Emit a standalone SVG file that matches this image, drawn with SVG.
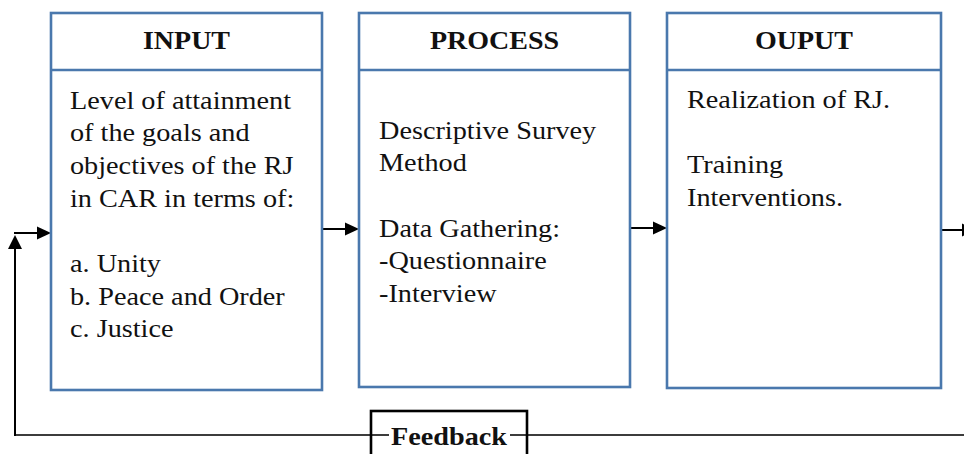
<svg xmlns="http://www.w3.org/2000/svg" width="964" height="454" viewBox="0 0 964 454">
  <style>
    .box { fill: #ffffff; stroke: #4a78ad; stroke-width: 2.6; }
    .head { font-family: "Liberation Serif", "Times New Roman", serif; font-size: 25px; font-weight: bold; fill: #111111; text-anchor: middle; }
    .copy { font-family: "Liberation Serif", "Times New Roman", serif; font-size: 25px; font-weight: normal; fill: #111111; }
    .wire { fill: none; stroke: #000000; stroke-width: 2; }
    .loop { fill: none; stroke: #3c3c3c; stroke-width: 2; }
  </style>
  <rect width="964" height="454" fill="#ffffff"/>

  <!-- connectors -->
  <g id="connectors">
    <line class="loop" x1="15" y1="435" x2="964" y2="435"/>
    <line class="wire" x1="15" y1="436" x2="15" y2="248"/>
    <path d="M15,235 L8,249 L22,249 z" fill="#000000"/>
    <line class="wire" x1="14" y1="233" x2="38" y2="233"/>
    <path d="M51,233 L37,226.5 L37,239.5 z" fill="#000000"/>
    <line class="wire" x1="323" y1="229" x2="346" y2="229"/>
    <path d="M359,229 L345,222.5 L345,235.5 z" fill="#000000"/>
    <line class="wire" x1="631" y1="228" x2="654" y2="228"/>
    <path d="M667,228 L653,221.5 L653,234.5 z" fill="#000000"/>
    <line class="wire" x1="942" y1="230" x2="964" y2="230"/>
    <path d="M976,230 L962,223.5 L962,236.5 z" fill="#000000"/>
  </g>

  <!-- INPUT -->
  <g id="input">
    <rect class="box" x="51" y="13" width="271" height="377"/>
    <line class="box" x1="51" y1="70" x2="322" y2="70"/>
    <text class="head" transform="matrix(1.12,0,0,1,186.5,49)">INPUT</text>
    <text class="copy" font-family="Liberation Serif, serif" transform="matrix(1.13,0,0,1,70,108.5)"><tspan x="0" y="0">Level of attainment</tspan><tspan x="0" y="32.7">of the goals and</tspan><tspan x="0" y="65.4">objectives of the RJ</tspan><tspan x="0" y="98.1">in CAR in terms of:</tspan><tspan x="0" y="163.5">a. Unity</tspan><tspan x="0" y="196.2">b. Peace and Order</tspan><tspan x="0" y="228.9">c. Justice</tspan></text>
  </g>

  <!-- PROCESS -->
  <g id="process">
    <rect class="box" x="359" y="13" width="271" height="374"/>
    <line class="box" x1="359" y1="70" x2="630" y2="70"/>
    <text class="head" transform="matrix(1.12,0,0,1,494.5,49)">PROCESS</text>
    <text class="copy" font-family="Liberation Serif, serif" transform="matrix(1.13,0,0,1,379,138.5)"><tspan x="0" y="0">Descriptive Survey</tspan><tspan x="0" y="32.7">Method</tspan><tspan x="0" y="98.1">Data Gathering:</tspan><tspan x="0" y="130.8">-Questionnaire</tspan><tspan x="0" y="163.5">-Interview</tspan></text>
  </g>

  <!-- OUTPUT -->
  <g id="output">
    <rect class="box" x="667" y="13" width="274" height="375"/>
    <line class="box" x1="667" y1="70" x2="941" y2="70"/>
    <text class="head" transform="matrix(1.12,0,0,1,804,49)">OUPUT</text>
    <text class="copy" font-family="Liberation Serif, serif" transform="matrix(1.13,0,0,1,687,107.5)"><tspan x="0" y="0">Realization of RJ.</tspan><tspan x="0" y="65.4">Training</tspan><tspan x="0" y="98.1">Interventions.</tspan></text>
  </g>

  <!-- Feedback -->
  <g id="feedback">
    <rect x="371" y="411" width="156" height="60" fill="none" stroke="#000000" stroke-width="2.6"/>
    <rect x="389" y="425" width="121" height="24" fill="#ffffff"/>
    <text class="head" transform="matrix(1.13,0,0,1,449,445)">Feedback</text>
  </g>
</svg>
